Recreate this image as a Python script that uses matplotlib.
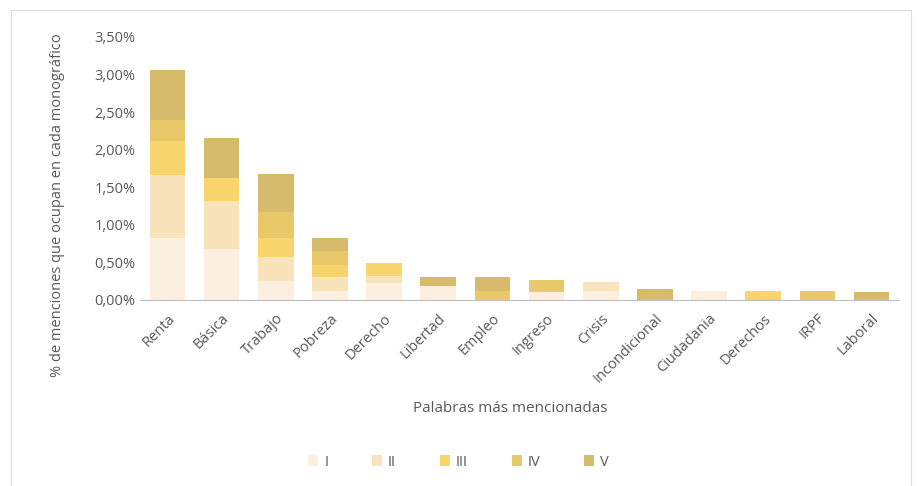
import numpy as np
import matplotlib.pyplot as plt
from matplotlib.patches import Rectangle
from matplotlib.ticker import FuncFormatter

plt.rcParams['font.family'] = ['Open Sans', 'DejaVu Sans']

words = ['Renta', 'Básica', 'Trabajo', 'Pobreza', 'Derecho', 'Libertad', 'Empleo',
         'Ingreso', 'Crisis', 'Incondicional', 'Ciudadania', 'Derechos', 'IRPF', 'Laboral']

# % of mentions per monograph, by volume I..V
vol_I   = [0.82, 0.68, 0.25, 0.12, 0.23, 0.19, 0.00, 0.11, 0.12, 0.00, 0.12, 0.00, 0.00, 0.00]
vol_II  = [0.84, 0.63, 0.32, 0.18, 0.09, 0.00, 0.00, 0.00, 0.12, 0.00, 0.00, 0.00, 0.00, 0.00]
vol_III = [0.46, 0.31, 0.25, 0.16, 0.17, 0.00, 0.00, 0.00, 0.00, 0.00, 0.00, 0.12, 0.00, 0.00]
vol_IV  = [0.28, 0.00, 0.35, 0.19, 0.00, 0.00, 0.12, 0.16, 0.00, 0.00, 0.00, 0.00, 0.12, 0.00]
vol_V   = [0.66, 0.53, 0.51, 0.17, 0.00, 0.12, 0.18, 0.00, 0.00, 0.15, 0.00, 0.00, 0.00, 0.11]

series = [('I', vol_I, '#fcefdf'), ('II', vol_II, '#f9e3bb'), ('III', vol_III, '#f8d46c'),
          ('IV', vol_IV, '#e8c868'), ('V', vol_V, '#d6bb6c')]

txt = '#595959'

fig = plt.figure(figsize=(9.17, 4.86), dpi=100)
fig.patches.append(Rectangle((0.012, -0.01), 0.982, 0.99, transform=fig.transFigure,
                             fill=False, edgecolor='#dcdcdc', lw=0.8))
ax = fig.add_axes([0.153, 0.383, 0.827, 0.541])

x = np.arange(len(words))
bottom = np.zeros(len(words))
for name, vals, col in series:
    ax.bar(x, vals, width=0.66, bottom=bottom, color=col, label=name)
    bottom += np.array(vals)

ax.set_xlim(-0.5, len(words) - 0.5)
ax.set_ylim(0, 3.5)
ax.set_yticks(np.arange(0, 3.51, 0.5))
ax.yaxis.set_major_formatter(FuncFormatter(lambda v, p: f'{v:.2f}%'.replace('.', ',')))
ax.set_xticks(x)
ax.set_xticklabels(words, rotation=45, ha='right', rotation_mode='anchor')
ax.tick_params(length=0, colors=txt, labelsize=10.5)
ax.tick_params(axis='x', pad=8)
for s in ['top', 'right', 'left']:
    ax.spines[s].set_visible(False)
ax.spines['bottom'].set_color('#bfbfbf')

fig.text(0.063, 0.578, '% de menciones que ocupan en cada monográfico', rotation=90,
         ha='center', va='center', color=txt, fontsize=10.5)
fig.text(0.556, 0.16, 'Palabras más mencionadas', ha='center', va='center',
         color=txt, fontsize=11)

fig.legend(loc='center', bbox_to_anchor=(0.5, 0.049), ncol=5, frameon=False,
           handlelength=0.7, handleheight=0.7, handletextpad=0.4, columnspacing=3.0,
           labelcolor=txt, fontsize=10.5)

fig.savefig('out.png', dpi=100)
